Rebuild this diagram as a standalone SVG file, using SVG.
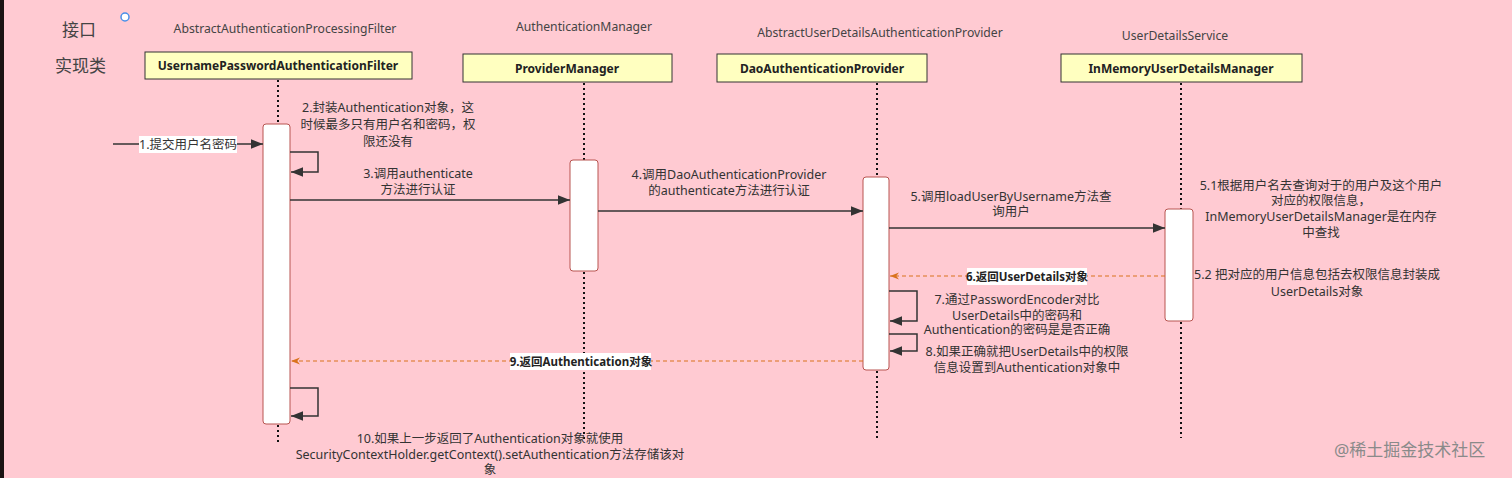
<svg xmlns="http://www.w3.org/2000/svg" width="1512" height="478" viewBox="0 0 1512 478">
<style>
text{font-family:"Noto Sans","Noto Sans CJK SC",sans-serif;fill:#333;}
.hdr{font-size:12.2px;text-anchor:middle;fill:#444;}
.box{fill:#FFFFC0;stroke:#333;stroke-width:1;}
.bl{font-size:12px;font-weight:bold;text-anchor:middle;fill:#222;}
.life{stroke:#111;stroke-width:2;stroke-dasharray:2 3;fill:none;}
.act{fill:#fff;stroke:#b85450;stroke-width:1;}
.msg{stroke:#333;stroke-width:1.5;fill:none;}
.ret{stroke:#d9731c;stroke-width:1;stroke-dasharray:4 3;fill:none;}
.lbl{font-size:12.5px;text-anchor:middle;fill:#333;}
.lblb{font-size:11.5px;font-weight:bold;text-anchor:middle;fill:#222;}
.side{font-size:17px;fill:#444;}
</style>
<defs>
<marker id="ahl" viewBox="0 0 10 10" refX="10" refY="5" markerWidth="12" markerHeight="12" markerUnits="userSpaceOnUse" orient="auto"><path d="M0,1 L10,5 L0,9 Z" fill="#333"/></marker>
<marker id="ro" viewBox="0 0 10 10" refX="10" refY="5" markerWidth="9" markerHeight="9" markerUnits="userSpaceOnUse" orient="auto"><path d="M0,1 L10,5 L0,9 L3,5 Z" fill="#d9731c"/></marker>
</defs>
<rect x="0" y="0" width="1512" height="478" fill="#FFCAD2"/>
<rect x="0" y="0" width="4" height="478" fill="#1a1414"/>
<text class="side" x="62" y="36">接口</text>
<text class="side" x="55" y="72">实现类</text>
<circle cx="125" cy="17" r="4" fill="#fff" stroke="#4a8fe8" stroke-width="1.5"/>

<g id="filter">
<text class="hdr" x="285" y="33">AbstractAuthenticationProcessingFilter</text>
<rect class="box" x="145" y="52" width="267" height="27"/>
<text class="bl" x="278" y="70">UsernamePasswordAuthenticationFilter</text>
<line class="life" x1="278" y1="80" x2="278" y2="124"/>
<line class="life" x1="278" y1="425" x2="278" y2="442"/>
<rect class="act" x="263" y="124" width="27" height="300" rx="3"/>
</g>
<g id="providerManager">
<text class="hdr" x="584" y="31">AuthenticationManager</text>
<rect class="box" x="463" y="54" width="209" height="28"/>
<text class="bl" x="567" y="73">ProviderManager</text>
<line class="life" x1="584" y1="83" x2="584" y2="160"/>
<line class="life" x1="584" y1="272" x2="584" y2="440"/>
<rect class="act" x="570" y="160" width="28" height="111" rx="3"/>
</g>
<g id="daoProvider">
<text class="hdr" x="880" y="37">AbstractUserDetailsAuthenticationProvider</text>
<rect class="box" x="717" y="54" width="210" height="28"/>
<text class="bl" x="822" y="73">DaoAuthenticationProvider</text>
<line class="life" x1="877" y1="83" x2="877" y2="177"/>
<line class="life" x1="877" y1="371" x2="877" y2="438"/>
<rect class="act" x="863" y="177" width="26" height="193" rx="3"/>
</g>
<g id="inMemory">
<text class="hdr" x="1175" y="40">UserDetailsService</text>
<rect class="box" x="1061" y="54" width="241" height="28"/>
<text class="bl" x="1181" y="73">InMemoryUserDetailsManager</text>
<line class="life" x1="1181" y1="83" x2="1181" y2="209"/>
<line class="life" x1="1181" y1="322" x2="1181" y2="438"/>
<rect class="act" x="1165" y="209" width="28" height="112" rx="3"/>
</g>

<g id="connectors">
<line class="msg" x1="113" y1="144" x2="263" y2="144" marker-end="url(#ahl)"/>
<rect x="139" y="136" width="98" height="17" fill="#fff"/>
<text class="lbl" x="188" y="149">1.提交用户名密码</text>

<path class="msg" d="M290,152 H318 V172 H291" marker-end="url(#ahl)"/>
<text class="lbl" x="388" y="112">2.封装Authentication对象，这</text>
<text class="lbl" x="388" y="129">时候最多只有用户名和密码，权</text>
<text class="lbl" x="388" y="146">限还没有</text>

<line class="msg" x1="290" y1="200" x2="570" y2="200" marker-end="url(#ahl)"/>
<text class="lbl" x="418" y="178">3.调用authenticate</text>
<text class="lbl" x="418" y="194">方法进行认证</text>

<line class="msg" x1="598" y1="211" x2="863" y2="211" marker-end="url(#ahl)"/>
<text class="lbl" x="729" y="179">4.调用DaoAuthenticationProvider</text>
<text class="lbl" x="729" y="195">的authenticate方法进行认证</text>

<line class="msg" x1="889" y1="228" x2="1165" y2="228" marker-end="url(#ahl)"/>
<text class="lbl" x="1011" y="201">5.调用loadUserByUsername方法查</text>
<text class="lbl" x="1011" y="216">询用户</text>

<text class="lbl" x="1321" y="190">5.1根据用户名去查询对于的用户及这个用户</text>
<text class="lbl" x="1321" y="205">对应的权限信息，</text>
<text class="lbl" x="1321" y="221">InMemoryUserDetailsManager是在内存</text>
<text class="lbl" x="1321" y="237">中查找</text>
<text class="lbl" x="1317" y="279">5.2 把对应的用户信息包括去权限信息封装成</text>
<text class="lbl" x="1317" y="296">UserDetails对象</text>

<line class="ret" x1="1165" y1="276" x2="890" y2="276" marker-end="url(#ro)"/>
<rect x="967" y="268" width="120" height="17" fill="#fff"/>
<text class="lblb" x="1027" y="281">6.返回UserDetails对象</text>

<path class="msg" d="M889,291 H917 V321 H890" marker-end="url(#ahl)"/>
<text class="lbl" x="1017" y="304">7.通过PasswordEncoder对比</text>
<text class="lbl" x="1017" y="320">UserDetails中的密码和</text>
<text class="lbl" x="1017" y="334">Authentication的密码是是否正确</text>

<path class="msg" d="M889,334 H917 V351 H890" marker-end="url(#ahl)"/>
<text class="lbl" x="1027" y="356">8.如果正确就把UserDetails中的权限</text>
<text class="lbl" x="1027" y="372">信息设置到Authentication对象中</text>

<line class="ret" x1="863" y1="361" x2="291" y2="361" marker-end="url(#ro)"/>
<rect x="510" y="353" width="141" height="17" fill="#fff"/>
<text class="lblb" x="581" y="366">9.返回Authentication对象</text>

<path class="msg" d="M290,388 H318 V416 H291" marker-end="url(#ahl)"/>
<text class="lbl" x="490" y="443">10.如果上一步返回了Authentication对象就使用</text>
<text class="lbl" x="490" y="459">SecurityContextHolder.getContext().setAuthentication方法存储该对</text>
<text class="lbl" x="490" y="474">象</text>
</g>
<text x="1334" y="456" style="font-size:17px;fill:#8a8a8a;">@稀土掘金技术社区</text>
</svg>
